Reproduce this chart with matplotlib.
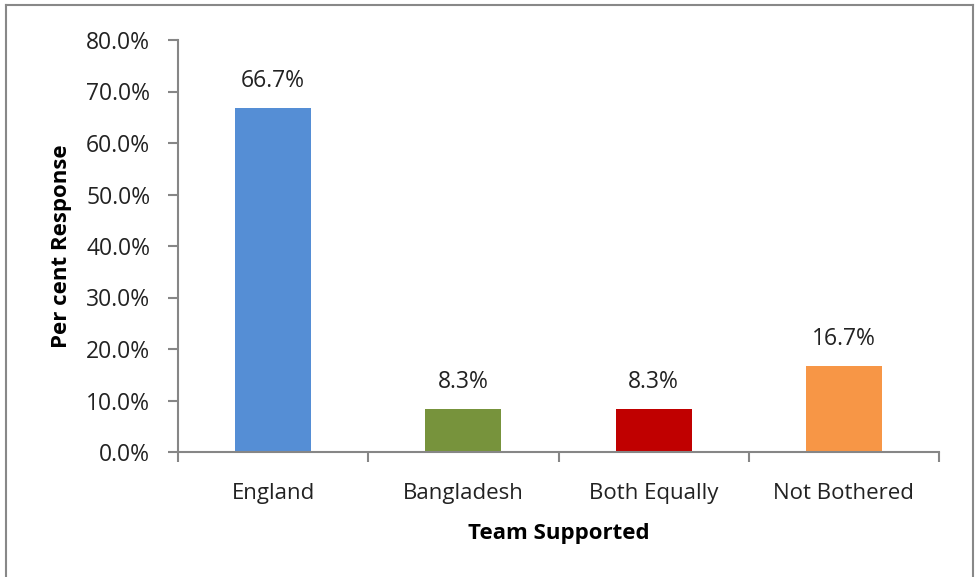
import matplotlib
matplotlib.use("Agg")
import matplotlib.pyplot as plt
from matplotlib.lines import Line2D
from matplotlib.ticker import FuncFormatter
import numpy as np

# ── Data ───────────────────────────────────────────────────────────────────────
teams   = ["England", "Bangladesh", "Both Equally", "Not Bothered"]
percent = [66.7, 8.3, 8.3, 16.7]
colors  = ["#558ED5", "#77933C", "#C00000", "#F79646"]
y_ticks = [0, 10, 20, 30, 40, 50, 60, 70, 80]

plt.rcParams["font.family"] = ["Open Sans", "DejaVu Sans"]
axis_grey = "#868686"

fig = plt.figure(figsize=(9.75, 5.77), dpi=100)
ax = fig.add_axes([178 / 975, 1 - 452 / 577, (939 - 178) / 975, (452 - 40) / 577])

x = np.arange(len(teams))
ax.bar(x, percent, width=0.4, color=colors, zorder=2)

for xi, v in zip(x, percent):
    ax.annotate(f"{v:.1f}%", (xi, v), xytext=(0, 11), textcoords="offset points",
                ha="center", va="bottom", fontsize=16.5, color="#222222")

ax.set_xlim(-0.5, len(teams) - 0.5)
ax.set_ylim(0, 80)
ax.set_yticks(y_ticks)
ax.yaxis.set_major_formatter(FuncFormatter(lambda v, _: f"{v:.1f}%"))

# category labels between boundary ticks
ax.set_xticks(np.arange(-0.5, len(teams)), minor=False)
ax.set_xticklabels([])
ax.set_xticks(x, minor=True)
ax.set_xticklabels(teams, minor=True)
ax.tick_params(axis="x", which="minor", length=0, pad=22, labelsize=16, labelcolor="#222222")
ax.tick_params(axis="x", which="major", length=7, width=1.5, color=axis_grey)
ax.tick_params(axis="y", length=7, width=1.5, color=axis_grey, labelsize=16.5,
               pad=13, labelcolor="#222222")

for side in ["top", "right"]:
    ax.spines[side].set_visible(False)
for side in ["left", "bottom"]:
    ax.spines[side].set_color(axis_grey)
    ax.spines[side].set_linewidth(1.5)

ax.set_xlabel("Team Supported", fontsize=16, fontweight="bold", labelpad=14)
ax.set_ylabel("Per cent Response", fontsize=16, fontweight="bold", labelpad=10)

# outer chart frame
frame = dict(color="#888888", linewidth=1.5, transform=fig.transFigure)
fig.add_artist(Line2D([6 / 975, 6 / 975], [0, 1 - 5 / 577], **frame))
fig.add_artist(Line2D([6 / 975, 973 / 975], [1 - 5 / 577, 1 - 5 / 577], **frame))
fig.add_artist(Line2D([973 / 975, 973 / 975], [0, 1 - 5 / 577], **frame))

fig.savefig("out.png", dpi=100)
plt.close()
